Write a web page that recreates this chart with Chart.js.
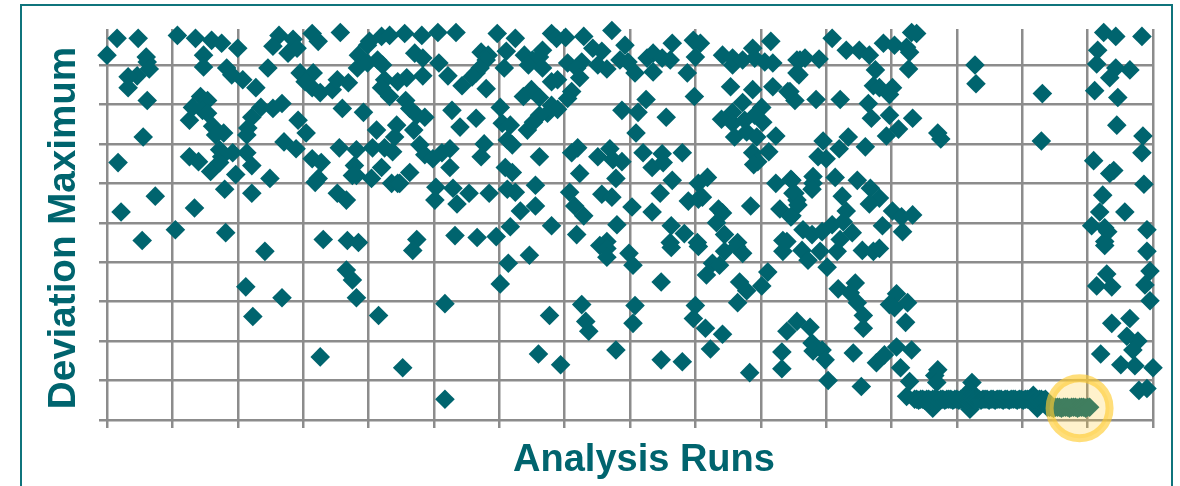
<!DOCTYPE html>
<html>
<head>
<meta charset="utf-8">
<script src="https://cdn.jsdelivr.net/npm/chart.js@4/dist/chart.umd.min.js"></script>
<style>
  html, body { margin: 0; padding: 0; background: #fff; overflow: hidden; }
  #frame { position: absolute; left: 20px; top: 4px; width: 1149px; height: 520px; border: 2px solid #0f747c; }
  #wrap { position: absolute; left: 0; top: 0; width: 1180px; height: 486px; overflow: hidden; }
  canvas { position: absolute; left: 0; top: 0; }
</style>
</head>
<body>
<div id="wrap">
  <div id="frame"></div>
  <canvas id="canvas" width="1180" height="486"></canvas>
</div>
<script>
// ---------- labels ----------
const xAxisLabel = 'Analysis Runs'
const yAxisLabel = 'Deviation Maximum'

// ---------- values: [run, deviation] ----------
const scatterLeft = [
  [0,370],[10,387],[31,387],[70,390],[88,387],[104,385],[114,382],[130,377],[171,390],[165,379],[185,386],[180,372],[189,377],[204,392],[210,384],[232,393],[261,384],[273,389],[281,390],[259,380],
  [39,368],[40,363],[42,356],[96,370],[96,358],[119,357],[124,350],[135,345],[148,337],[160,357],[192,352],[205,352],[197,343],[204,337],[212,332],[224,335],[229,345],[240,342],[250,370],[249,357],[259,362],[269,365],[274,360],[276,345],[273,337],[281,328],[289,343],
  [30,349],[21,348],[21,337],[40,324],[93,328],[100,324],[85,317],[95,314],[100,311],[82,304],[144,307],[153,317],[165,316],[174,321],[234,316],[255,312],[105,298],[116,291],[108,289],[36,287],[140,296],[139,289],[190,304],[198,291],[268,294],[288,299],[286,287],
  [176,282],[188,275],[231,276],[248,274],[264,276],[276,276],[284,272],[112,274],[125,271],[139,271],[82,267],[91,262],[114,267],[112,261],[103,252],[128,249],[144,258],[162,245],[11,261],[204,265],[213,261],[210,245],[207,241],[246,258],[273,256],[248,248],[263,245],[283,240],[289,240],[244,248],
  [117,234],[144,230],[48,227],[87,215],[14,211],[229,230],[238,223],[68,193],[118,190],[35,182],[215,183],[239,182],[250,180],
  [157,171],[138,135],[174,124],[145,105],[238,152],[244,142],[248,124],[270,106],[212,64],[294,53]
]
const scatterMiddle = [
  [296,392],[313,390],[329,393],[347,393],[388,392],[406,387],[397,374],[372,373],[379,370],[377,365],[306,372],[314,367],[330,362],[339,349],[353,339],[314,349],[298,347],[367,352],[371,357],[363,348],[395,357],[377,336],
  [415,370],[423,365],[419,360],[433,375],[430,368],[442,392],[447,387],[456,388],[474,389],[502,395],[483,377],[492,374],[433,357],[458,362],[472,363],[467,357],[470,347],[488,360],[497,356],[515,380],[510,365],[518,363],[525,352],[543,353],[537,367],[543,372],[552,367],[560,365],[562,382],[583,385],[590,382],[585,368],[577,352],[612,370],[622,360],[622,367],[632,365],[642,377],[644,367],[654,363],[662,362],[660,384],[686,365],[686,352],
  [448,345],[442,343],[462,333],[458,326],[422,335],[414,328],[430,327],[442,319],[448,315],[438,311],[430,309],[424,302],[418,294],[297,324],[301,316],[308,309],[316,307],[305,294],[343,314],[367,306],[351,297],[391,317],[393,301],[401,299],[536,325],[512,314],[528,312],[556,307],[526,291],[584,328],[620,338],[642,335],[662,338],[679,333],[684,324],[632,322],[651,317],[622,312],[611,305],[622,301],[634,304],[644,309],[652,302],[636,292],[624,287],[646,287],[665,288],
  [311,279],[316,269],[324,265],[333,271],[341,275],[375,280],[372,267],[398,284],[403,279],[341,256],[301,251],[430,267],[468,276],[462,271],[470,250],[488,267],[500,275],[503,264],[512,262],[506,245],[533,271],[552,270],[542,256],[553,261],[572,271],[562,243],[642,271],[658,272],[647,262],[643,259],
  [291,240],[327,236],[344,235],[326,223],[348,219],[360,230],[380,230],[396,256],[403,251],[398,234],[406,231],[426,238],[426,217],[411,212],[401,196],[460,231],[465,217],[474,207],[442,197],[492,229],[502,226],[522,216],[550,230],[542,211],[507,198],[561,197],[574,189],[467,188],[588,240],[597,246],[592,226],[578,222],[588,224],[608,214],[612,210],[606,200],[614,188],[640,217],[665,240],[681,243],[669,214],[682,230],[681,207],[686,223],
  [308,183],[346,187],[368,185],[387,186],[497,181],[490,177],[587,180],[672,182],[627,180],[560,180],
  [304,172],[399,159],[420,167],[391,138],[336,118],[440,106],[472,117],[476,100],[479,90],[429,67],[451,56],[506,71],[336,21],[497,174],[497,165],[519,169],[523,157],[561,175],[588,176],[614,171],[626,176],[632,169],[672,171],[602,159],[609,157],[596,147],[657,150],[629,140],[636,131],[627,119],[651,136],[551,140],[525,116],[523,98],[585,116],[583,103],[595,93],[612,87],[676,90],[686,100],[600,72],[551,61],[572,59],[639,48],[671,69],[671,52]
]
const scatterRight = [
  [721,387],[735,375],[748,375],[758,370],[772,382],[783,380],[795,378],[800,393],[805,392],[798,373],[689,365],[694,367],[708,366],[764,355],[797,356],[688,350],[863,360],[864,341],[991,393],[1003,389],[1029,389],[985,375],[984,361],[1003,357],[997,347],[1017,355],
  [677,333],[705,325],[729,325],[762,339],[768,337],[781,337],[778,330],[757,321],[760,306],[778,309],[801,306],[787,295],[775,288],[737,287],[712,283],[728,275],[754,277],[707,267],[715,265],[826,291],[829,285],[930,331],[982,334],[1005,327],[1004,299],[1030,288],[929,283],[1029,271],[981,263],[1001,253],[997,250],[1031,239],
  [680,244],[702,247],[702,240],[701,234],[724,246],[746,243],[684,230],[687,218],[680,206],[759,235],[731,227],[768,225],[758,219],[735,212],[781,212],[790,206],[801,208],[771,197],[791,191],[990,228],[987,211],[1012,211],[979,197],[992,195],[995,191],[1034,193],
  [692,193],[701,188],[711,191],[721,198],[732,201],[741,190],[729,183],[676,181],[992,181],
  [691,172],[709,171],[697,162],[726,171],[751,172],[762,171],[768,174],[716,155],[992,177],[1034,171],[727,133],[744,139],[739,129],[746,119],[752,106],[752,93],[785,128],[778,117],[783,114],[796,119],[794,99],
  [994,148],[984,136],[999,135],[1037,151],[1032,137],[1037,121],[699,94],[701,78],[702,70],[711,71],[714,61],[742,68],[785,74],[800,71],[773,66],[765,58],[789,53],[717,40],[750,34],
  [999,98],[1017,103],[1014,85],[1025,80],[1020,71],[988,67],[1008,56],[1022,55],[1040,53],[1026,30],[1034,32]
]
const bottomBand = [
  [826,51],[823,45],[825,38],[821,12],[860,38],[858,30],[858,11],[921,25],[925,12],[798,39],[795,24],
  [803,21],[805,21],[807,20],[809,21],[811,21],[813,20],[815,21],[817,21],[819,20],[821,21],[823,21],[825,21],[827,20],[829,21],[831,21],[833,20],[835,21],[837,21],[839,21],[841,20],[843,21],[845,21],[847,20],[849,21],[851,21],[853,21],[855,20],[857,21],[859,21],[861,21],[863,20],[865,21],[867,21],[869,20],[871,21],[873,21],[875,21],[877,20],[879,21],[881,21],[883,20],[885,21],[887,21],[889,21],[891,20],[893,21],[895,21],[897,20],[899,21],[901,21],[903,21],[905,20],[907,21],[909,21],[911,20],[913,21],[915,21],[917,21],[919,20],[921,21],[923,21],[925,20],[927,21],[929,21],[931,20],[933,21]
]
const highlightedBand = [[935,13],[937,13],[939,13],[941,12],[943,13],[945,13],[947,13],[949,12],[951,13],[953,13],[955,13],[957,12],[959,13],[961,13],[963,13],[965,12],[967,13],[969,13],[971,13],[973,12],[975,13],[977,13]]
const highlightSpot = [[967,12]]

const markerColor = '#00646e'
const gridColor = '#8c8c8c'

function toXY(pairs) {
  return pairs.map(p => ({ x: p[0], y: p[1] }))
}

// axis captions sit off centre in the original so they are written here
const captions = {
  id: 'captions',
  afterDraw(chart) {
    const ctx = chart.ctx
    ctx.save()
    ctx.fillStyle = markerColor
    ctx.textAlign = 'center'
    ctx.textBaseline = 'alphabetic'
    ctx.font = 'bold 38px "Liberation Sans", Arial, sans-serif'
    ctx.fillText(xAxisLabel, 644, 471)
    ctx.font = 'bold 38.6px "Liberation Sans", Arial, sans-serif'
    ctx.translate(75, 228)
    ctx.rotate(-Math.PI / 2)
    ctx.fillText(yAxisLabel, 0, 0)
    ctx.restore()
  }
}

const points = scatterLeft.concat(scatterMiddle, scatterRight, bottomBand, highlightedBand)

new Chart(document.getElementById('canvas').getContext('2d'), {
  type: 'scatter',
  data: {
    datasets: [
      {
        label: 'highlight',
        data: toXY(highlightSpot),
        pointStyle: 'circle',
        pointRadius: 30,
        pointBorderWidth: 8,
        pointBackgroundColor: 'rgba(255, 204, 51, 0.25)',
        pointBorderColor: 'rgba(255, 204, 51, 0.65)',
        clip: false
      },
      {
        label: yAxisLabel,
        data: toXY(points),
        pointStyle: 'rectRot',
        pointRadius: 9.8,
        pointBorderWidth: 0,
        pointBackgroundColor: markerColor,
        clip: false
      }
    ]
  },
  options: {
    responsive: false,
    animation: false,
    events: [],
    layout: { autoPadding: false, padding: { left: 99, top: 29, right: 27, bottom: 58 } },
    plugins: { legend: { display: false }, tooltip: { enabled: false } },
    scales: {
      x: {
        type: 'linear',
        min: 0,
        max: 1040,
        afterFit: s => { s.height = 8 },
        border: { display: false },
        ticks: { stepSize: 65, display: false, includeBounds: false },
        grid: { color: gridColor, lineWidth: 2.5, tickLength: 8, tickColor: gridColor, tickWidth: 2.5 }
      },
      y: {
        type: 'linear',
        min: 0,
        max: 396.5,
        afterFit: s => { s.width = 8 },
        border: { display: false },
        ticks: { stepSize: 40, display: false, includeBounds: false },
        grid: { color: gridColor, lineWidth: 2.5, tickLength: 8, tickColor: gridColor, tickWidth: 2.5 }
      }
    }
  },
  plugins: [captions]
})
</script>
</body>
</html>
